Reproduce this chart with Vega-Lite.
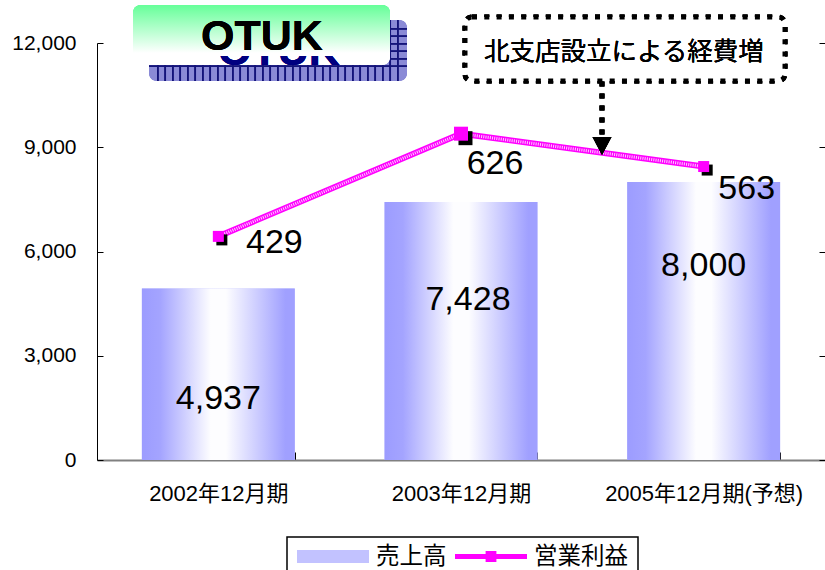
{
  "$schema": "https://vega.github.io/schema/vega-lite/v6.json",
  "width": 728,
  "height": 417,
  "autosize": {"type": "none"},
  "padding": {"left": 97, "top": 43, "right": 0, "bottom": 110},
  "background": "white",
  "config": {"view": {"stroke": null}, "axis": {"grid": false}, "legend": {"strokeWidth": 1.5}},
  "data": {"values": [
    {"period": "2002年12月期", "sales": 4937, "profit": 429},
    {"period": "2003年12月期", "sales": 7428, "profit": 626},
    {"period": "2005年12月期(予想)", "sales": 8000, "profit": 563}
  ]},
  "resolve": {"scale": {"x": "independent", "y": "independent"}},
  "layer": [
    {
      "mark": {"type": "rect", "fill": "#8a8ad6", "cornerRadius": 8},
      "encoding": {
        "x": {"datum": 0.2143, "type": "quantitative", "scale": {"domain": [0, 3], "nice": false, "zero": false}, "axis": null},
        "x2": {"datum": 1.2775},
        "y": {"datum": 12662, "type": "quantitative", "scale": {"domain": [0, 12000], "nice": false}, "axis": null},
        "y2": {"datum": 10906}
      }
    },
    {
      "mark": {"type": "rule", "stroke": "#14147a", "strokeWidth": 61, "strokeDash": [1.5, 6]},
      "encoding": {
        "x": {"datum": 0.2473, "type": "quantitative", "scale": {"domain": [0, 3], "nice": false, "zero": false}, "axis": null},
        "x2": {"datum": 1.2445},
        "y": {"datum": 11784, "type": "quantitative", "scale": {"domain": [0, 12000], "nice": false}, "axis": null}
      }
    },
    {
      "mark": {"type": "rule", "stroke": "#14147a", "strokeWidth": 258, "strokeDash": [1.5, 6]},
      "encoding": {
        "x": {"datum": 0.7459, "type": "quantitative", "scale": {"domain": [0, 3], "nice": false, "zero": false}, "axis": null},
        "y": {"datum": 12432, "type": "quantitative", "scale": {"domain": [0, 12000], "nice": false}, "axis": null},
        "y2": {"datum": 11141}
      }
    },
    {
      "mark": {"type": "rect", "cornerRadius": 8, "fill": {"gradient": "linear", "x1": 0, "y1": 0, "x2": 0, "y2": 1, "stops": [{"offset": 0, "color": "#66ff99"}, {"offset": 0.8, "color": "#ffffff"}, {"offset": 1, "color": "#ffffff"}]}},
      "encoding": {
        "x": {"datum": 0.1484, "type": "quantitative", "scale": {"domain": [0, 3], "nice": false, "zero": false}, "axis": null},
        "x2": {"datum": 1.2074},
        "y": {"datum": 13094, "type": "quantitative", "scale": {"domain": [0, 12000], "nice": false}, "axis": null},
        "y2": {"datum": 11367}
      }
    },
    {
      "mark": {"type": "text", "font": "Liberation Sans", "fontWeight": "bold", "fontSize": 43, "color": "#000080", "baseline": "middle", "align": "center"},
      "encoding": {
        "x": {"datum": 0.75, "type": "quantitative", "scale": {"domain": [0, 3], "nice": false, "zero": false}, "axis": null},
        "y": {"datum": 11755, "type": "quantitative", "scale": {"domain": [0, 12000], "nice": false}, "axis": null},
        "text": {"value": "OTUK"}
      }
    },
    {
      "mark": {"type": "rect", "cornerRadiusTopLeft": 8, "cornerRadiusTopRight": 8, "fill": {"gradient": "linear", "x1": 0, "y1": 0, "x2": 0, "y2": 1, "stops": [{"offset": 0, "color": "#66ff99"}, {"offset": 0.94, "color": "#ffffff"}, {"offset": 1, "color": "#ffffff"}]}},
      "encoding": {
        "x": {"datum": 0.1484, "type": "quantitative", "scale": {"domain": [0, 3], "nice": false, "zero": false}, "axis": null},
        "x2": {"datum": 1.2074},
        "y": {"datum": 13094, "type": "quantitative", "scale": {"domain": [0, 12000], "nice": false}, "axis": null},
        "y2": {"datum": 11626}
      }
    },
    {
      "mark": {"type": "text", "font": "Liberation Sans", "fontWeight": "bold", "fontSize": 43, "color": "black", "baseline": "middle", "align": "center"},
      "encoding": {
        "x": {"datum": 0.68, "type": "quantitative", "scale": {"domain": [0, 3], "nice": false, "zero": false}, "axis": null},
        "y": {"datum": 12187, "type": "quantitative", "scale": {"domain": [0, 12000], "nice": false}, "axis": null},
        "text": {"value": "OTUK"}
      }
    },
    {
      "mark": {"type": "rect", "fill": "white", "stroke": "black", "strokeWidth": 5, "strokeDash": [5, 7.3], "cornerRadius": 7},
      "encoding": {
        "x": {"datum": 1.5165, "type": "quantitative", "scale": {"domain": [0, 3], "nice": false, "zero": false}, "axis": null},
        "x2": {"datum": 2.8352},
        "y": {"datum": 12748, "type": "quantitative", "scale": {"domain": [0, 12000], "nice": false}, "axis": null},
        "y2": {"datum": 10906}
      }
    },
    {
      "mark": {"type": "text", "font": "Noto Sans CJK JP", "fontSize": 25.5, "color": "black", "baseline": "middle", "align": "center"},
      "encoding": {
        "x": {"datum": 2.1717, "type": "quantitative", "scale": {"domain": [0, 3], "nice": false, "zero": false}, "axis": null},
        "y": {"datum": 11741, "type": "quantitative", "scale": {"domain": [0, 12000], "nice": false}, "axis": null},
        "text": {"value": "北支店設立による経費増"}
      }
    },
    {
      "mark": {"type": "bar", "orient": "vertical"},
      "encoding": {
        "x": {"field": "period", "type": "nominal", "sort": null, "scale": {"paddingInner": 0.37, "paddingOuter": 0.185},
          "axis": {"title": null, "labelAngle": 0, "labelFontSize": 22, "labelFont": "Liberation Sans, Noto Sans CJK JP", "labelColor": "black", "domainColor": "#808080", "domainWidth": 2, "tickBand": "extent", "tickSize": -8, "tickColor": "black", "labelPadding": 31, "labelLimit": 0}},
        "y": {"field": "sales", "type": "quantitative", "scale": {"domain": [0, 12000], "nice": false},
          "axis": {"title": null, "values": [0, 3000, 6000, 9000, 12000], "format": ",d", "labelFontSize": 21, "labelFont": "Liberation Sans", "labelColor": "black", "domainColor": "black", "tickColor": "black", "tickSize": -6, "labelPadding": 27}},
        "color": {"datum": "売上高", "type": "nominal",
          "scale": {"domain": ["売上高", "営業利益"], "range": ["#c2c2ff", "#ff00ff"]},
          "legend": {"title": null, "orient": "none", "legendX": 190, "legendY": 494, "direction": "horizontal", "columns": 2,
            "padding": 10, "strokeColor": "black", "symbolSize": 5184, "clipHeight": 19, "labelOffset": 7, "columnPadding": 8,
            "symbolType": {"expr": "datum.value === '売上高' ? 'M-1,-0.18H1V0.18H-1Z' : 'M-1,-0.07H1V0.07H-1Z M-0.15,-0.15H0.15V0.15H-0.15Z'"},
            "symbolStrokeWidth": 0,
            "labelFont": "Noto Sans CJK JP", "labelFontSize": 23.5, "labelColor": "black", "labelBaseline": "middle"}}
      }
    },
    {
      "mark": {"type": "bar", "fill": {"gradient": "linear", "x1": 0, "y1": 0, "x2": 1, "y2": 0, "stops": [{"offset": 0, "color": "#9c9cff"}, {"offset": 0.12, "color": "#a4a4ff"}, {"offset": 0.45, "color": "#fdfdff"}, {"offset": 0.55, "color": "#fdfdff"}, {"offset": 0.94, "color": "#a0a0ff"}, {"offset": 1, "color": "#a0a0ff"}]}},
      "encoding": {
        "x": {"field": "period", "type": "nominal", "sort": null, "scale": {"paddingInner": 0.37, "paddingOuter": 0.185}, "axis": null},
        "y": {"field": "sales", "type": "quantitative", "scale": {"domain": [0, 12000], "nice": false}, "axis": null}
      }
    },
    {
      "transform": [{"filter": "datum.sales === 4937"}],
      "mark": {"type": "text", "font": "Liberation Sans", "fontSize": 34, "color": "black", "baseline": "middle", "align": "center", "dy": 111},
      "encoding": {
        "x": {"field": "period", "type": "nominal", "sort": null, "scale": {"domain": ["2002年12月期", "2003年12月期", "2005年12月期(予想)"]}, "axis": null},
        "y": {"field": "sales", "type": "quantitative", "scale": {"domain": [0, 12000], "nice": false}, "axis": null},
        "text": {"field": "sales", "type": "quantitative", "format": ","}
      }
    },
    {
      "transform": [{"filter": "datum.sales === 7428"}],
      "mark": {"type": "text", "font": "Liberation Sans", "fontSize": 34, "color": "black", "baseline": "middle", "align": "center", "dy": 98, "dx": 7},
      "encoding": {
        "x": {"field": "period", "type": "nominal", "sort": null, "scale": {"domain": ["2002年12月期", "2003年12月期", "2005年12月期(予想)"]}, "axis": null},
        "y": {"field": "sales", "type": "quantitative", "scale": {"domain": [0, 12000], "nice": false}, "axis": null},
        "text": {"field": "sales", "type": "quantitative", "format": ","}
      }
    },
    {
      "transform": [{"filter": "datum.sales === 8000"}],
      "mark": {"type": "text", "font": "Liberation Sans", "fontSize": 34, "color": "black", "baseline": "middle", "align": "center", "dy": 84},
      "encoding": {
        "x": {"field": "period", "type": "nominal", "sort": null, "scale": {"domain": ["2002年12月期", "2003年12月期", "2005年12月期(予想)"]}, "axis": null},
        "y": {"field": "sales", "type": "quantitative", "scale": {"domain": [0, 12000], "nice": false}, "axis": null},
        "text": {"field": "sales", "type": "quantitative", "format": ","}
      }
    },
    {
      "mark": {"type": "line", "strokeWidth": 6},
      "encoding": {
        "x": {"field": "period", "type": "nominal", "sort": null, "axis": null},
        "y": {"field": "profit", "type": "quantitative", "scale": {"domain": [0, 800], "nice": false},
          "axis": {"orient": "right", "title": null, "labels": false, "domain": false, "values": [0, 200, 400, 600, 800], "tickSize": -6, "tickColor": "black"}},
        "color": {"datum": "営業利益", "type": "nominal"}
      }
    },
    {
      "mark": {"type": "line", "strokeWidth": 3, "stroke": "#ffd0ff", "strokeDash": [1, 1.2]},
      "encoding": {
        "x": {"field": "period", "type": "nominal", "sort": null, "axis": null},
        "y": {"field": "profit", "type": "quantitative", "scale": {"domain": [0, 800], "nice": false}, "axis": null}
      }
    },
    {
      "mark": {"type": "rule", "stroke": "black", "strokeWidth": 5, "strokeDash": [5, 7]},
      "encoding": {
        "x": {"datum": 2.081, "type": "quantitative", "scale": {"domain": [0, 3], "nice": false, "zero": false}, "axis": null},
        "y": {"datum": 10892, "type": "quantitative", "scale": {"domain": [0, 12000], "nice": false}, "axis": null},
        "y2": {"datum": 9295}
      }
    },
    {
      "mark": {"type": "point", "filled": true, "color": "black", "opacity": 1, "shape": "M-1,-0.95L1,-0.95L0,0.95Z", "size": 361},
      "encoding": {
        "x": {"datum": 2.081, "type": "quantitative", "scale": {"domain": [0, 3], "nice": false, "zero": false}, "axis": null},
        "y": {"datum": 9036, "type": "quantitative", "scale": {"domain": [0, 12000], "nice": false}, "axis": null}
      }
    },
    {
      "mark": {"type": "point", "filled": true, "color": "black", "opacity": 1, "shape": "M-0.36,-0.36H1.64V1.64H-0.36Z"},
      "encoding": {
        "x": {"field": "period", "type": "nominal", "sort": null, "axis": null},
        "y": {"field": "profit", "type": "quantitative", "scale": {"domain": [0, 800], "nice": false}, "axis": null},
        "size": {"condition": {"test": "datum.profit === 626", "value": 196}, "value": 121}
      }
    },
    {
      "mark": {"type": "point", "filled": true, "color": "#ff00ff", "opacity": 1, "shape": "square"},
      "encoding": {
        "x": {"field": "period", "type": "nominal", "sort": null, "axis": null},
        "y": {"field": "profit", "type": "quantitative", "scale": {"domain": [0, 800], "nice": false}, "axis": null},
        "size": {"condition": {"test": "datum.profit === 626", "value": 196}, "value": 121}
      }
    },
    {
      "transform": [{"filter": "datum.profit === 429"}],
      "mark": {"type": "text", "font": "Liberation Sans", "fontSize": 34, "color": "black", "baseline": "middle", "align": "center", "dx": 56, "dy": 7},
      "encoding": {
        "x": {"field": "period", "type": "nominal", "sort": null, "scale": {"domain": ["2002年12月期", "2003年12月期", "2005年12月期(予想)"]}, "axis": null},
        "y": {"field": "profit", "type": "quantitative", "scale": {"domain": [0, 800], "nice": false}, "axis": null},
        "text": {"field": "profit", "type": "quantitative"}
      }
    },
    {
      "transform": [{"filter": "datum.profit === 626"}],
      "mark": {"type": "text", "font": "Liberation Sans", "fontSize": 34, "color": "black", "baseline": "middle", "align": "center", "dx": 34, "dy": 30},
      "encoding": {
        "x": {"field": "period", "type": "nominal", "sort": null, "scale": {"domain": ["2002年12月期", "2003年12月期", "2005年12月期(予想)"]}, "axis": null},
        "y": {"field": "profit", "type": "quantitative", "scale": {"domain": [0, 800], "nice": false}, "axis": null},
        "text": {"field": "profit", "type": "quantitative"}
      }
    },
    {
      "transform": [{"filter": "datum.profit === 563"}],
      "mark": {"type": "text", "font": "Liberation Sans", "fontSize": 34, "color": "black", "baseline": "middle", "align": "center", "dx": 43, "dy": 22},
      "encoding": {
        "x": {"field": "period", "type": "nominal", "sort": null, "scale": {"domain": ["2002年12月期", "2003年12月期", "2005年12月期(予想)"]}, "axis": null},
        "y": {"field": "profit", "type": "quantitative", "scale": {"domain": [0, 800], "nice": false}, "axis": null},
        "text": {"field": "profit", "type": "quantitative"}
      }
    }
  ]
}
